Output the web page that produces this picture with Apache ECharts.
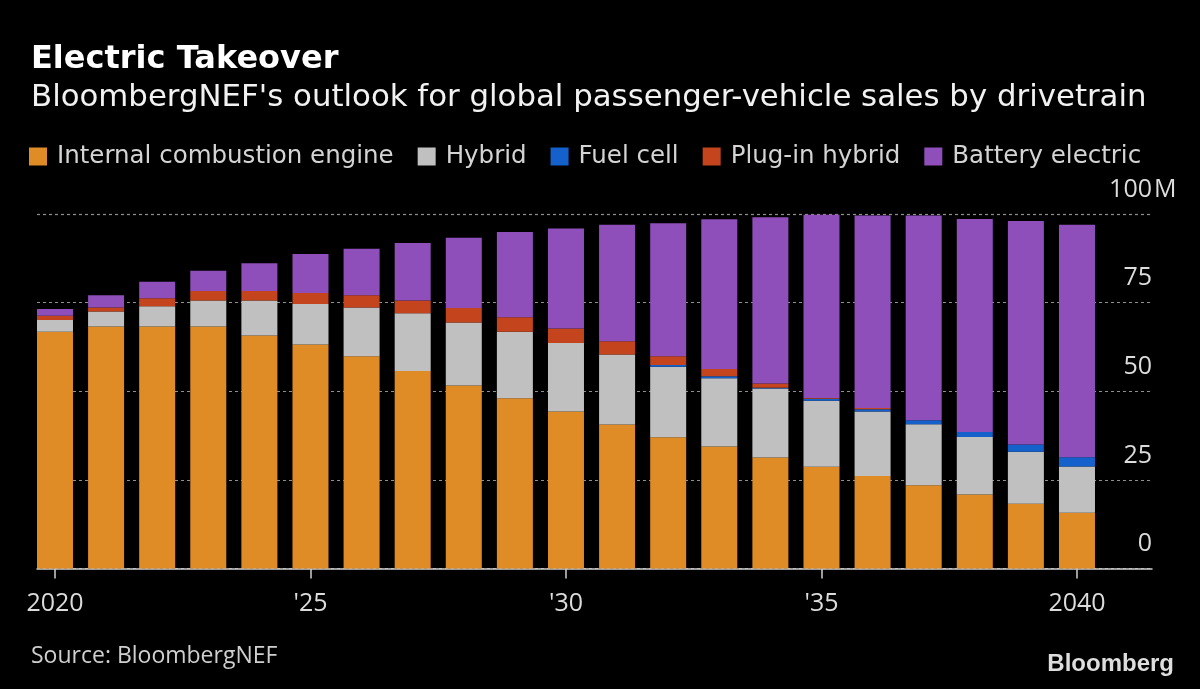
<!DOCTYPE html>
<html>
<head>
<meta charset="utf-8">
<script src="https://cdn.jsdelivr.net/npm/echarts@6/dist/echarts.min.js"></script>
<style>
html,body{margin:0;padding:0;background:#000;}
#chart{width:1200px;height:689px;}
</style>
</head>
<body>
<div id="chart"></div>
<script>
// ---- data (millions of vehicles) ----
const years = [2020,2021,2022,2023,2024,2025,2026,2027,2028,2029,2030,2031,2032,2033,2034,2035,2036,2037,2038,2039,2040];
const ice      = [66.8,68.3,68.3,68.3,65.7,63.2,59.9,55.7,51.6,48.0,44.3,40.6,37.0,34.4,31.3,28.7,26.1,23.5,20.9,18.3,15.7];
const hybrid   = [3.3,4.2,5.7,7.3,9.9,11.4,13.7,16.3,17.8,18.8,19.3,19.8,19.9,19.3,19.5,18.6,18.2,17.2,16.2,14.6,13.1];
const fuelCell = [0,0,0,0,0,0,0,0,0,0,0,0,0.5,0.5,0.2,0.6,0.6,1.1,1.4,2.1,2.6];
const plugIn   = [1.2,1.1,2.2,2.7,2.7,3.1,3.5,3.6,4.1,4.1,4.1,3.7,2.5,2.1,1.2,0.2,0.4,0,0,0,0];
const battery  = [1.9,3.5,4.7,5.7,7.8,11.0,13.1,16.2,19.8,24.0,28.2,32.9,37.5,42.2,46.9,51.7,54.3,57.8,60.1,63.0,65.6];
const xTicks = [2020,2025,2030,2035,2040];
const xTickLabels = ['2020',"'25","'30","'35",'2040'];

const seriesDefs = [
  {name:'Internal combustion engine', values: ice,      color:'#DF8B26'},
  {name:'Hybrid',                     values: hybrid,   color:'#C0C0C0'},
  {name:'Fuel cell',                  values: fuelCell, color:'#1461CC'},
  {name:'Plug-in hybrid',             values: plugIn,   color:'#C4451D'},
  {name:'Battery electric',           values: battery,  color:'#8E4FBA'}
];

const WIDE = 'DejaVu Sans';
const NUM = 'Open Sans';
const chart = echarts.init(document.getElementById('chart'), null, {renderer:'canvas'});

const option = {
  backgroundColor:'#000',
  animation:false,
  title:[
    {text:'Electric Takeover', left:26, top:39,
     textStyle:{color:'#fff', fontSize:32, fontWeight:'bold', fontFamily:WIDE}},
    {text:"BloombergNEF's outlook for global passenger-vehicle sales by drivetrain", left:26, top:77,
     textStyle:{color:'#f2f2f2', fontSize:30.8, fontWeight:'normal', fontFamily:WIDE}},
    {text:'Source: BloombergNEF', left:26, top:640,
     textStyle:{color:'#cfcfcf', fontSize:23, fontWeight:'normal', fontFamily:NUM}}
  ],
  legend:{
    left:24, top:139, itemWidth:18, itemHeight:18, itemGap:24, icon:'rect',
    textStyle:{color:'#d4d4d4', fontSize:24.5, fontFamily:WIDE, padding:[0,0,0,5]},
    data: seriesDefs.map(s=>s.name)
  },
  grid:{left:37, right:48, top:214, bottom:120.5},
  xAxis:{
    type:'value', min:2019.648, max:2041.468,
    axisLine:{show:true, lineStyle:{color:'#cfcfcf', width:1.5}},
    axisTick:{show:true, customValues:xTicks, length:10, lineStyle:{color:'#cfcfcf', width:1.5}},
    axisLabel:{customValues:xTicks, color:'#dcdcdc', fontSize:25, fontFamily:NUM, margin:23,
      formatter:(v)=>xTickLabels[xTicks.indexOf(Math.round(v))] || ''},
    splitLine:{show:false}
  },
  yAxis:{
    type:'value', position:'right', min:0, max:100, interval:25,
    axisLine:{show:false}, axisTick:{show:false},
    axisLabel:{inside:true, margin:0, align:'right', verticalAlign:'bottom', padding:[0,0,12,0],
      color:'#dcdcdc', fontSize:25, fontFamily:NUM},
    splitLine:{show:true, lineStyle:{color:'#909090', type:[3,3], width:1.2}}
  },
  series: seriesDefs.map(s=>({
    name:s.name, type:'bar', stack:'total', barWidth:36,
    dimensions:['amount','year'],
    encode:{x:'year', y:'amount'},
    itemStyle:{color:s.color},
    data: years.map((y,i)=>[s.values[i], y])
  }))
};
chart.setOption(option);

// "M" unit suffix after the 100 tick label, plus the Bloomberg wordmark
const p100 = chart.convertToPixel({yAxisIndex:0}, 100);
chart.setOption({graphic:[
  {type:'text', right:26, top:652, style:{text:'Bloomberg', fill:'#dedede',
    font:'bold 24px "Liberation Sans", Arial, sans-serif'}},
  {type:'text', x:1154, y:p100-12, style:{text:'M', fill:'#dcdcdc', font:'25px "'+NUM+'"', align:'left', verticalAlign:'bottom'}}
]});
</script>
</body>
</html>
